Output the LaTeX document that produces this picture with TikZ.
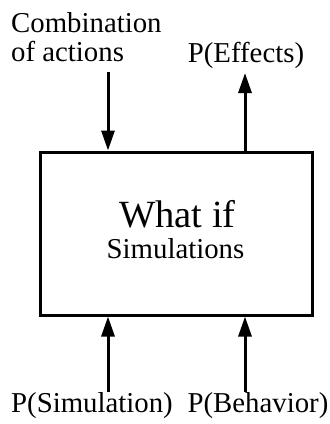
\documentclass[tikz,border=0pt]{standalone}
\usepackage{fontspec}
\setmainfont{Liberation Serif}
\usetikzlibrary{arrows.meta}
\begin{document}
\begin{tikzpicture}[x=1pt,y=-1pt,
  lbl/.style={font=\fontsize{28.8}{29}\selectfont, inner sep=0pt, anchor=base},
  arr/.style={line width=3pt, -{Triangle[length=20pt,width=13pt]}},
  boxst/.style={draw, line width=3pt, minimum width=272pt, minimum height=163pt, inner sep=0pt}]
\useasboundingbox (0,0) rectangle (330,424);
\node[boxst] (sim) at (176,233.5) {};
\node[font=\fontsize{38.5}{40}\selectfont, inner sep=0pt, anchor=base] (whatif) at (177.5,227) {What if};
\node[lbl] (simtxt) at (175.5,258) {Simulations};
\node[font=\fontsize{28.8}{29}\selectfont, inner sep=0pt, anchor=south west, align=left] (comb) at (11,62) {Combination\\of actions};
\node[lbl] (eff) at (246,62) {P(Effects)};
\node[lbl] (psim) at (92,412) {P(Simulation)};
\node[lbl] (pbeh) at (258,412) {P(Behavior)};
\coordinate (c1) at (108,72);
\coordinate (c2) at (245,73);
\coordinate (c3) at (108,392);
\coordinate (c4) at (245,392);
\draw[arr] (c1) -- (c1 |- sim.north);
\draw[arr] (c2 |- sim.north) -- (c2);
\draw[arr] (c3) -- (c3 |- sim.south);
\draw[arr] (c4) -- (c4 |- sim.south);
\end{tikzpicture}
\end{document}
